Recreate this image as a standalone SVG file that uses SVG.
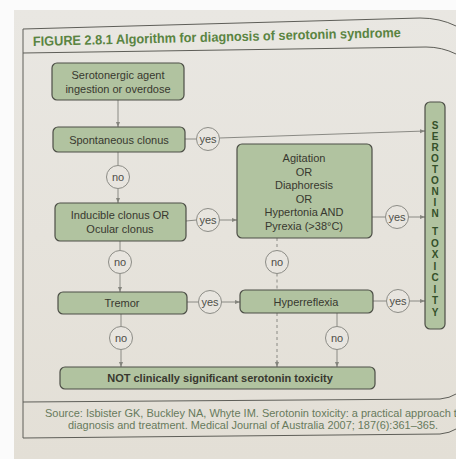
<svg xmlns="http://www.w3.org/2000/svg" width="456" height="459" viewBox="0 0 456 459">
<defs>
<marker id="ah" viewBox="0 0 10 10" refX="10" refY="5" markerWidth="5" markerHeight="5" orient="auto" markerUnits="userSpaceOnUse"><path d="M0,1 L10,5 L0,9 z" fill="#85857e"/></marker>
<linearGradient id="pg" x1="0" y1="0" x2="0" y2="1"><stop offset="0" stop-color="#e9e7e2"/><stop offset="1" stop-color="#e3dfd6"/></linearGradient>
</defs>
<style>
.box{fill:#b1c3a0;stroke:#4c4e46;stroke-width:1.2}
.cir{fill:#e8e5df;stroke:#8c8c86;stroke-width:1}
.t{font-family:"Liberation Sans",Arial,sans-serif;font-size:11px;fill:#38382f;text-anchor:middle}
.c{font-family:"Liberation Sans",Arial,sans-serif;font-size:11px;fill:#4f4f49;text-anchor:middle}
.ln{stroke:#8a8a84;stroke-width:1;fill:none}
.ar{stroke:#8a8a84;stroke-width:1;fill:none;marker-end:url(#ah)}
.dash{stroke:#8a8a84;stroke-width:1;fill:none;stroke-dasharray:3,3}
.frame{stroke:#5e5e58;stroke-width:1;fill:none}
.v{font-family:"Liberation Sans",Arial,sans-serif;font-size:10px;font-weight:bold;fill:#34502a;text-anchor:middle}
.src{font-family:"Liberation Sans",Arial,sans-serif;font-size:10.5px;fill:#677a5c}
</style>
<rect width="456" height="459" fill="#fbfbfb"/>
<rect x="14" y="10" width="442" height="449" fill="url(#pg)"/>
<g id="frame">
<path class="frame" d="M23,438 L23,29 L420,18 Q440,18 456,26"/>
<path class="frame" d="M23,53 L426,47 Q442,47 456,54"/>
<path class="frame" d="M23,402 L440,399 Q450,398 456,394"/>
<path class="frame" d="M23,438 L440,434 Q450,433 456,429"/>
</g>
<text id="title" x="33" y="46" transform="rotate(-1.4 33 46)" font-family="'Liberation Sans',Arial,sans-serif" font-size="13.5" font-weight="bold" fill="#5a8442" textLength="368" lengthAdjust="spacingAndGlyphs">FIGURE 2.8.1  Algorithm for diagnosis of serotonin syndrome</text>

<g id="connectors">
<path class="ar" d="M118,100 L118,127"/>
<path class="ln" d="M185,139 L196.5,139"/>
<path class="ar" d="M219.5,138 L425,131"/>
<path class="ln" d="M118,152 L118,165.5"/>
<path class="ar" d="M118,188.5 L118,203"/>
<path class="ln" d="M186,221 L196.5,220"/>
<path class="ar" d="M219.5,220 L237,220"/>
<path class="ln" d="M372,217 L385.5,217"/>
<path class="ar" d="M408.5,217 L425,217"/>
<path class="ln" d="M120,241 L120,250.5"/>
<path class="ar" d="M120,273.5 L120,292"/>
<path class="dash" d="M277,238 L277,250.5"/>
<path class="dash" d="M277,273.5 L277,290"/>
<path class="dash" d="M277,313 L277,362"/>
<path class="ar" d="M277,360 L277,367"/>
<path class="ln" d="M187,302 L198.5,302"/>
<path class="ar" d="M221.5,302 L240,302"/>
<path class="ln" d="M373,301 L386.5,301"/>
<path class="ar" d="M409.5,301 L425,301"/>
<path class="ln" d="M121,314 L121,326.5"/>
<path class="ar" d="M121,349.5 L121,367"/>
<path class="ln" d="M337,313 L337,326.5"/>
<path class="ar" d="M337,349.5 L337,367"/>
</g>

<g id="n-ingestion"><rect class="box" x="52" y="63" width="132" height="37" rx="5"/>
<text class="t" x="118" y="79">Serotonergic agent</text><text class="t" x="118" y="93">ingestion or overdose</text></g>
<g id="n-spontaneous"><rect class="box" x="53" y="127" width="132" height="25" rx="5"/>
<text class="t" x="119" y="143.5">Spontaneous clonus</text></g>
<g id="c-yes1"><circle class="cir" cx="208" cy="139" r="11.5"/><text class="c" x="208" y="142.5">yes</text></g>
<g id="c-no1"><circle class="cir" cx="118" cy="177" r="11.5"/><text class="c" x="118" y="180.5">no</text></g>
<g id="n-inducible"><rect class="box" x="55" y="203" width="131" height="38" rx="5"/>
<text class="t" x="120" y="219">Inducible clonus OR</text><text class="t" x="120" y="233">Ocular clonus</text></g>
<g id="c-yes2"><circle class="cir" cx="208" cy="220" r="11.5"/><text class="c" x="208" y="223.5">yes</text></g>
<g id="n-agitation"><rect class="box" x="237" y="144" width="135" height="94" rx="5"/>
<text class="t" x="304" y="162">Agitation</text><text class="t" x="304" y="175.5">OR</text>
<text class="t" x="304" y="189">Diaphoresis</text><text class="t" x="304" y="202.5">OR</text>
<text class="t" x="304" y="216">Hypertonia AND</text><text class="t" x="304" y="230">Pyrexia (&gt;38°C)</text></g>
<g id="c-yes3"><circle class="cir" cx="397" cy="217" r="11.5"/><text class="c" x="397" y="220.5">yes</text></g>
<g id="c-no2"><circle class="cir" cx="120" cy="262" r="11.5"/><text class="c" x="120" y="265.5">no</text></g>
<g id="c-no3"><circle class="cir" cx="277" cy="262" r="11.5"/><text class="c" x="277" y="265.5">no</text></g>
<g id="n-tremor"><rect class="box" x="58" y="292" width="129" height="22" rx="5"/>
<text class="t" x="122" y="307">Tremor</text></g>
<g id="c-yes4"><circle class="cir" cx="210" cy="302" r="11.5"/><text class="c" x="210" y="305.5">yes</text></g>
<g id="n-hyper"><rect class="box" x="240" y="290" width="133" height="23" rx="5"/>
<text class="t" x="306" y="305.5">Hyperreflexia</text></g>
<g id="c-yes5"><circle class="cir" cx="398" cy="301" r="11.5"/><text class="c" x="398" y="304.5">yes</text></g>
<g id="c-no4"><circle class="cir" cx="121" cy="338" r="11.5"/><text class="c" x="121" y="341.5">no</text></g>
<g id="c-no5"><circle class="cir" cx="337" cy="338" r="11.5"/><text class="c" x="337" y="341.5">no</text></g>
<g id="n-not"><rect class="box" x="60" y="367" width="315" height="22" rx="5"/>
<text class="t" x="220" y="382" font-weight="bold" fill="#2f2f2a">NOT clinically significant serotonin toxicity</text></g>
<g id="n-toxicity"><rect class="box" x="425" y="102" width="20" height="227" rx="5"/>
<text class="v" x="435"><tspan x="435" y="129">S</tspan><tspan x="435" y="140">E</tspan><tspan x="435" y="151">R</tspan><tspan x="435" y="162">O</tspan><tspan x="435" y="173">T</tspan><tspan x="435" y="184">O</tspan><tspan x="435" y="195">N</tspan><tspan x="435" y="206">I</tspan><tspan x="435" y="217">N</tspan><tspan x="435" y="235">T</tspan><tspan x="435" y="246.5">O</tspan><tspan x="435" y="258">X</tspan><tspan x="435" y="269.5">I</tspan><tspan x="435" y="281">C</tspan><tspan x="435" y="292.5">I</tspan><tspan x="435" y="304">T</tspan><tspan x="435" y="315.5">Y</tspan></text></g>

<g id="source">
<text class="src" x="45" y="417" textLength="418" lengthAdjust="spacingAndGlyphs">Source: Isbister GK, Buckley NA, Whyte IM. Serotonin toxicity: a practical approach to</text>
<text class="src" x="68" y="429" textLength="370" lengthAdjust="spacingAndGlyphs">diagnosis and treatment. Medical Journal of Australia 2007; 187(6):361–365.</text>
</g>
</svg>
